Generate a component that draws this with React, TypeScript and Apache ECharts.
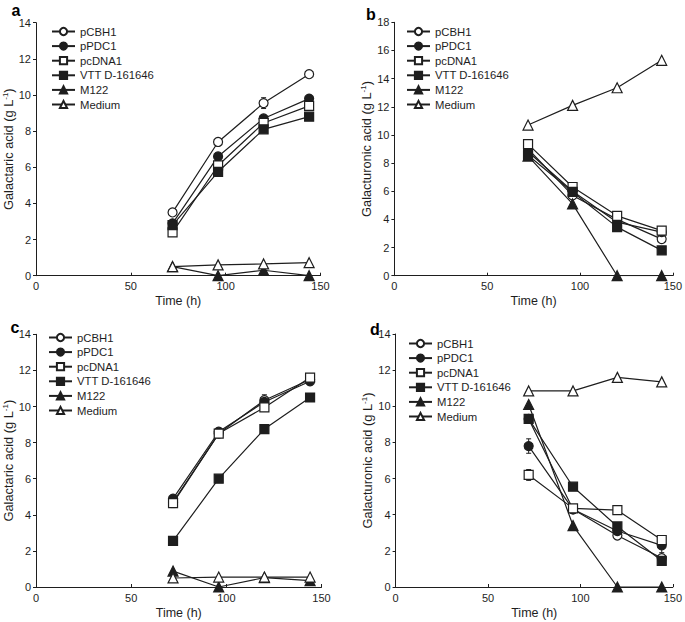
import React, { useEffect, useRef } from "react";
import * as echarts from "echarts";

// ---- data ----
const hours = [72, 96, 120, 144];
const xTicks = [0, 50, 100, 150];
const seriesNames = ["pCBH1", "pPDC1", "pcDNA1", "VTT D-161646", "M122", "Medium"];

// panel a: galactaric acid
const aPCBH1 = [3.5, 7.4, 9.55, 11.15];
const aPPDC1 = [2.9, 6.6, 8.7, 9.8];
const aPcDNA1 = [2.4, 6.1, 8.45, 9.4];
const aVTT = [2.8, 5.75, 8.1, 8.8];
const aM122 = [0.5, 0, 0.3, 0];
const aMedium = [0.5, 0.6, 0.65, 0.72];

// panel b: galacturonic acid
const bPCBH1 = [9.0, 5.7, 4.0, 2.6];
const bPPDC1 = [8.8, 6.0, 3.8, 3.1];
const bPcDNA1 = [9.35, 6.3, 4.25, 3.2];
const bVTT = [8.55, 5.95, 3.45, 1.8];
const bM122 = [8.5, 5.1, 0, 0];
const bMedium = [10.7, 12.1, 13.35, 15.3];

// panel c: galactaric acid
const cPCBH1 = [4.7, 8.5, 10.35, 11.5];
const cPPDC1 = [4.9, 8.6, 10.25, 11.4];
const cPcDNA1 = [4.65, 8.5, 9.95, 11.6];
const cVTT = [2.55, 6.0, 8.75, 10.5];
const cM122 = [0.88, 0, 0.52, 0.35];
const cMedium = [0.5, 0.55, 0.55, 0.55];

// panel d: galacturonic acid
const dPCBH1 = [9.3, 4.3, 2.85, 1.6];
const dPPDC1 = [7.8, 4.3, 3.1, 2.3];
const dPcDNA1 = [6.2, 4.35, 4.25, 2.6];
const dVTT = [9.3, 5.55, 3.35, 1.45];
const dM122 = [10.1, 3.4, 0, 0];
const dMedium = [10.85, 10.85, 11.6, 11.35];

// error bars (standard deviation), zero where not visible
const zeroErr = [0, 0, 0, 0];
const aPCBH1Err = [0, 0, 0.3, 0];
const cPCBH1Err = [0.3, 0.2, 0.3, 0];
const dPPDC1Err = [0.4, 0, 0, 0.4];
const dPcDNA1Err = [0.3, 0, 0, 0];

const panels = [
  { label: "a", yMax: 14, yName: "Galactaric acid", values: [aPCBH1, aPPDC1, aPcDNA1, aVTT, aM122, aMedium],
    errs: [aPCBH1Err, zeroErr, zeroErr, zeroErr, zeroErr, zeroErr] },
  { label: "b", yMax: 18, yName: "Galacturonic acid", values: [bPCBH1, bPPDC1, bPcDNA1, bVTT, bM122, bMedium],
    errs: [zeroErr, zeroErr, zeroErr, zeroErr, zeroErr, zeroErr] },
  { label: "c", yMax: 14, yName: "Galactaric acid", values: [cPCBH1, cPPDC1, cPcDNA1, cVTT, cM122, cMedium],
    errs: [cPCBH1Err, zeroErr, zeroErr, zeroErr, zeroErr, zeroErr] },
  { label: "d", yMax: 14, yName: "Galacturonic acid", values: [dPCBH1, dPPDC1, dPcDNA1, dVTT, dM122, dMedium],
    errs: [zeroErr, dPPDC1Err, dPcDNA1Err, zeroErr, zeroErr, zeroErr] },
];

// ---- layout / style ----
const grids = [
  { left: 34.5, top: 22.7, width: 286, height: 253 },
  { left: 394.4, top: 22.3, width: 280, height: 253.4 },
  { left: 34.5, top: 334.3, width: 287, height: 252.7 },
  { left: 395.6, top: 334, width: 278.5, height: 253 },
];
const legendPos = [
  { left: 51, top: 26 },
  { left: 406, top: 26 },
  { left: 48, top: 332 },
  { left: 408, top: 338 },
];
const letterPos = [
  { x: 16, y: 10 },
  { x: 371, y: 14 },
  { x: 15, y: 327 },
  { x: 375, y: 329 },
];
const FONT = "'Liberation Sans', Arial, sans-serif";
const INK = "#1e1e1e";
const symbolStyles = [
  { symbol: "circle", fill: "#ffffff", size: 9 },
  { symbol: "circle", fill: INK, size: 9 },
  { symbol: "rect", fill: "#ffffff", size: 9 },
  { symbol: "rect", fill: INK, size: 9 },
  { symbol: "triangle", fill: INK, size: 10 },
  { symbol: "triangle", fill: "#ffffff", size: 10 },
];

function buildOption() {
  const xAxis: any[] = [];
  const yAxis: any[] = [];
  const legend: any[] = [];
  const series: any[] = [];
  const graphic: any[] = [];
  panels.forEach((p, i) => {
    xAxis.push({
      type: "value", gridIndex: i, min: xTicks[0], max: xTicks[xTicks.length - 1], interval: 50,
      name: "Time (h)", nameLocation: "middle", nameGap: 19,
      nameTextStyle: { fontFamily: FONT, fontSize: 12.5, color: INK },
      axisLine: { lineStyle: { color: INK, width: 1 } },
      axisTick: { inside: true, length: 3, lineStyle: { color: INK } },
      axisLabel: { fontFamily: FONT, fontSize: 11, color: INK, margin: 5 },
      splitLine: { show: false },
    });
    yAxis.push({
      type: "value", gridIndex: i, min: 0, max: p.yMax, interval: 2,
      name: p.yName + " (g L{sup|-1})", nameLocation: "middle", nameGap: 21,
      nameTextStyle: { fontFamily: FONT, fontSize: 12.8, color: INK,
        rich: { sup: { fontFamily: FONT, fontSize: 8, color: INK, verticalAlign: "bottom", padding: [0, 0, 6, 0] } } },
      axisLine: { show: true, lineStyle: { color: INK, width: 1 } },
      axisTick: { show: true, inside: false, length: 3, lineStyle: { color: INK } },
      axisLabel: { fontFamily: FONT, fontSize: 11, color: INK, margin: 5 },
      splitLine: { show: false },
    });
    legend.push({
      orient: "vertical", left: legendPos[i].left, top: legendPos[i].top, padding: 0,
      itemWidth: 23, itemHeight: 9, itemGap: 3.6, itemTextGap: 2,
      textStyle: { fontFamily: FONT, fontSize: 11.3, color: INK, padding: 0 },
      data: seriesNames,
      selectedMode: false,
    });
    p.values.forEach((vals, k) => {
      const s = symbolStyles[k];
      series.push({
        type: "line", name: seriesNames[k], xAxisIndex: i, yAxisIndex: i,
        data: hours.map((h, j) => [h, vals[j]]),
        symbol: s.symbol, symbolSize: s.size, showSymbol: true,
        lineStyle: { color: INK, width: 1.2 },
        itemStyle: { color: s.fill, borderColor: INK, borderWidth: 1.2 },
        z: 3,
      });
      const errData = hours.map((h, j) => [h, vals[j], p.errs[k][j]]).filter((d) => d[2] > 0);
      if (errData.length) {
        series.push({
          type: "custom", xAxisIndex: i, yAxisIndex: i, z: 2,
          data: errData,
          renderItem: (params: any, api: any) => {
            const x = api.value(0), y = api.value(1), e = api.value(2);
            const top = api.coord([x, y + e]);
            const bot = api.coord([x, y - e]);
            const style = { stroke: INK, lineWidth: 1 };
            return {
              type: "group",
              children: [
                { type: "line", shape: { x1: top[0], y1: top[1], x2: bot[0], y2: bot[1] }, style },
                { type: "line", shape: { x1: top[0] - 2.5, y1: top[1], x2: top[0] + 2.5, y2: top[1] }, style },
                { type: "line", shape: { x1: bot[0] - 2.5, y1: bot[1], x2: bot[0] + 2.5, y2: bot[1] }, style },
              ],
            };
          },
        });
      }
    });
    graphic.push({
      type: "text", x: letterPos[i].x, y: letterPos[i].y,
      style: { text: p.label, font: "bold 16px " + FONT, fill: "#000", align: "center", verticalAlign: "middle" },
    });
  });
  return {
    animation: false,
    backgroundColor: "#ffffff",
    grid: grids.map((g) => ({ ...g, containLabel: false })),
    xAxis, yAxis, legend, series, graphic,
  };
}

export default function App() {
  const ref = useRef<HTMLDivElement>(null);
  useEffect(() => {
    if (!ref.current) return;
    const chart = echarts.init(ref.current, null, { renderer: "svg" });
    chart.setOption(buildOption());
    return () => chart.dispose();
  }, []);
  return (
    <div
      ref={ref}
      style={{ position: "fixed", left: 0, top: 0, width: 685, height: 622, background: "#fff" }}
    />
  );
}
